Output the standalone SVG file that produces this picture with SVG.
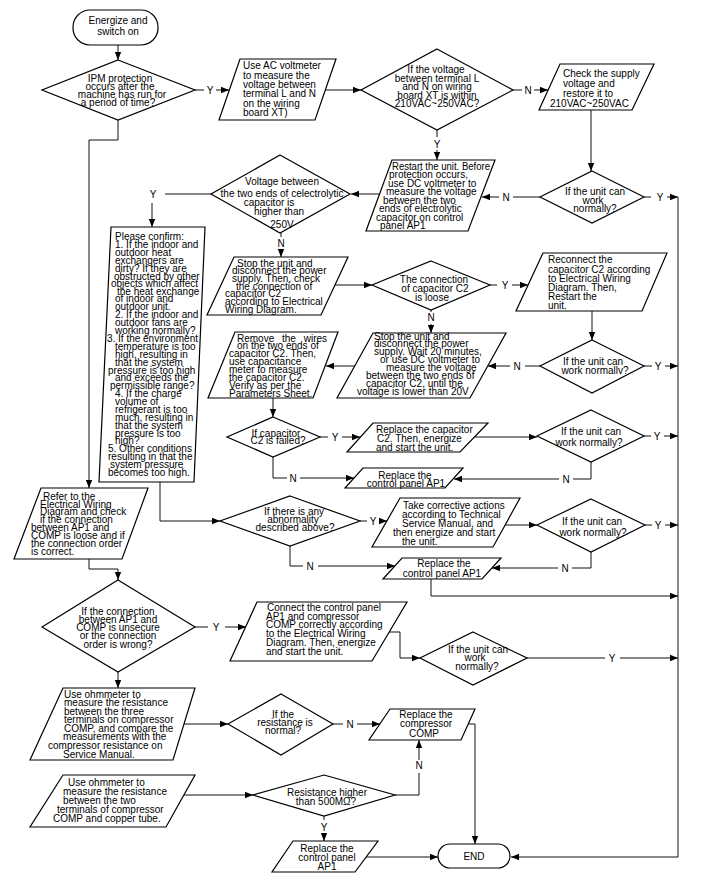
<svg xmlns="http://www.w3.org/2000/svg" width="701" height="880" viewBox="0 0 701 880">
<defs>
<marker id="ah" viewBox="0 0 10 10" refX="10" refY="5" markerWidth="8" markerHeight="8" markerUnits="userSpaceOnUse" orient="auto"><path d="M0,1 L10,5 L0,9 z" fill="#000"/></marker>
<style>
.sh{fill:#fff;stroke:#000;stroke-width:1.2}
.ln{fill:none;stroke:#111;stroke-width:1}
.ar{marker-end:url(#ah)}
text{font-family:"Liberation Sans",Arial,sans-serif;font-size:10px;fill:#000}
.m{text-anchor:middle}
</style>
</defs>
<rect width="701" height="880" fill="#fff"/>

<g id="connectors">
<path class="ln ar" d="M118,45V60"/>
<path class="ln" d="M195,90H204"/><text x="210" y="93.5" class="m">Y</text><path class="ln ar" d="M216,90H229"/>
<path class="ln ar" d="M325,90H361"/>
<path class="ln" d="M513,90H522"/><text x="528" y="93.5" class="m">N</text><path class="ln ar" d="M534,90H548"/>
<path class="ln ar" d="M591,110V171"/>
<path class="ln" d="M644,197H651"/><text x="660" y="200.5" class="m">Y</text><path class="ln ar" d="M667,197H678"/>
<path class="ln ar" d="M678,197V857H511"/>
<path class="ln" d="M540,197H513"/><text x="506" y="200.5" class="m">N</text><path class="ln ar" d="M499,197H482"/>
<path class="ln" d="M437,130V137"/><text x="437" y="148" class="m">Y</text><path class="ln ar" d="M437,150V160"/>
<path class="ln ar" d="M379,194H351"/>
<path class="ln" d="M211,194H165"/><text x="153" y="197.5" class="m">Y</text><path class="ln ar" d="M152,203V227"/>
<path class="ln" d="M281,233V237"/><text x="281" y="246.5" class="m">N</text><path class="ln ar" d="M281,249V257"/>
<path class="ln ar" d="M335,285H372"/>
<path class="ln" d="M490,285H497"/><text x="505" y="288.5" class="m">Y</text><path class="ln ar" d="M512,285H528"/>
<path class="ln" d="M431,310V312"/><text x="431" y="321" class="m">N</text><path class="ln ar" d="M431,324V333"/>
<path class="ln ar" d="M592,311V340"/>
<path class="ln" d="M644,366H652"/><text x="658" y="369.5" class="m">Y</text><path class="ln ar" d="M665,366H678"/>
<path class="ln" d="M540,366H525"/><text x="517" y="369.5" class="m">N</text><path class="ln ar" d="M510,366H488"/>
<path class="ln ar" d="M355,366H326"/>
<path class="ln ar" d="M273,398V417"/>
<path class="ln" d="M320,437H328"/><text x="335" y="440.5" class="m">Y</text><path class="ln ar" d="M342,437H360"/>
<path class="ln ar" d="M475,437H537"/>
<path class="ln" d="M644,436H651"/><text x="657" y="439.5" class="m">Y</text><path class="ln ar" d="M664,436H678"/>
<path class="ln" d="M273,457V478H287"/><text x="293" y="481.5" class="m">N</text><path class="ln ar" d="M300,478H354"/>
<path class="ln" d="M591,462V479H573"/><text x="566" y="482.5" class="m">N</text><path class="ln ar" d="M559,479H454"/>
<path class="ln ar" d="M160,482V521H220"/>
<path class="ln" d="M360,521H367"/><text x="373" y="524.5" class="m">Y</text><path class="ln ar" d="M379,521H387"/>
<path class="ln ar" d="M505,525H537"/>
<path class="ln" d="M645,525H652"/><text x="658" y="528.5" class="m">Y</text><path class="ln ar" d="M665,525H678"/>
<path class="ln" d="M290,546V566H303"/><text x="310" y="569.5" class="m">N</text><path class="ln ar" d="M318,566H395"/>
<path class="ln" d="M591,552V568H572"/><text x="565" y="571.5" class="m">N</text><path class="ln ar" d="M558,568H492"/>
<path class="ln ar" d="M431,579V596H678"/>
<path class="ln ar" d="M118,120V140H89V488"/>
<path class="ln ar" d="M89,559V569H118V580"/>
<path class="ln" d="M195,627H208"/><text x="216" y="630.5" class="m">Y</text><path class="ln ar" d="M225,627H246"/>
<path class="ln ar" d="M389,632H400V658H420"/>
<path class="ln" d="M527,658H605"/><text x="612" y="661.5" class="m">Y</text><path class="ln ar" d="M620,658H678"/>
<path class="ln ar" d="M118,672V688"/>
<path class="ln ar" d="M184,724H228"/>
<path class="ln" d="M333,724H343"/><text x="350" y="727.5" class="m">N</text><path class="ln ar" d="M357,724H380"/>
<path class="ln ar" d="M468,724H475V844"/>
<path class="ln ar" d="M184,795H253"/>
<path class="ln" d="M395,795H419V773"/><text x="419" y="768.5" class="m">N</text><path class="ln ar" d="M419,760V740"/>
<path class="ln" d="M324,816V820"/><text x="324" y="830.5" class="m">Y</text><path class="ln ar" d="M324,833V841"/>
<path class="ln ar" d="M366,857H438"/>
</g>

<g id="start">
<rect class="sh" x="73" y="10" width="85" height="35" rx="17"/>
<text class="m"><tspan x="118" y="24">Energize and</tspan><tspan x="118" y="35">switch on</tspan></text>
</g>

<g id="ipm">
<polygon class="sh" points="118,60 195,90 118,120 42,90"/>
<text class="m"><tspan x="120" y="81.5">IPM protection</tspan><tspan x="120" y="89.5">occurs after the</tspan><tspan x="122" y="97.5">machine has run for</tspan><tspan x="118" y="105.5">a period of time?</tspan></text>
</g>

<g id="ac-voltmeter">
<polygon class="sh" points="240,59 336,59 315,120 219,120"/>
<text><tspan x="243" y="69">Use AC voltmeter</tspan><tspan x="243" y="78.5">to measure the</tspan><tspan x="243" y="87.5">voltage between</tspan><tspan x="243" y="97">terminal L and N</tspan><tspan x="243" y="106.5">on the wiring</tspan><tspan x="243" y="115.5">board XT)</tspan></text>
</g>

<g id="voltage-range">
<polygon class="sh" points="437,49 513,90 437,130 361,90"/>
<text class="m"><tspan x="436" y="73">If the voltage</tspan><tspan x="437" y="81.5">between terminal L</tspan><tspan x="437" y="90">and N on wiring</tspan><tspan x="437" y="98.5">board XT is within</tspan><tspan x="437" y="107">210VAC~250VAC?</tspan></text>
</g>

<g id="check-supply">
<polygon class="sh" points="560,64 654,64 632,110 539,110"/>
<text><tspan x="563" y="76.5">Check the supply</tspan><tspan x="563" y="86.5">voltage and</tspan><tspan x="563" y="96.5">restore it to</tspan><tspan x="550" y="106.5">210VAC~250VAC</tspan></text>
</g>

<g id="work-normally-1">
<polygon class="sh" points="592,171 644,197 592,223 540,197"/>
<text class="m"><tspan x="595" y="194.5">If the unit can</tspan><tspan x="593" y="203.5">work</tspan><tspan x="595" y="211.5">normally?</tspan></text>
</g>

<g id="restart-dc">
<polygon class="sh" points="392,160 495,160 468,231 366,231"/>
<text><tspan x="392" y="169.5" textLength="98" lengthAdjust="spacingAndGlyphs">Restart the unit. Before</tspan><tspan x="389" y="178">protection occurs,</tspan><tspan x="388" y="186.5">use DC voltmeter to</tspan><tspan x="386" y="195">measure the voltage</tspan><tspan x="383" y="203.5">between the two</tspan><tspan x="379" y="212">ends of electrolytic</tspan><tspan x="376" y="220.5">capacitor on control</tspan><tspan x="380" y="229">panel AP1</tspan></text>
</g>

<g id="cap-voltage">
<polygon class="sh" points="280,155 350,194 280,233 211,194"/>
<text class="m"><tspan x="282" y="184.5">Voltage between</tspan><tspan x="282" y="196.5">the two ends of celectrolytic</tspan><tspan x="269" y="205.5">capacitor  is</tspan><tspan x="279" y="214.5">higher than</tspan><tspan x="282" y="227.5">250V</tspan></text>
</g>

<g id="please-confirm">
<polygon class="sh" points="111,227 205,227 194,482 99,482"/>
<text><tspan x="115" y="239.5">Please confirm:</tspan><tspan x="115" y="247.5">1. If the indoor and</tspan><tspan x="115" y="255.5">outdoor heat</tspan><tspan x="115" y="263.5">exchangers are</tspan><tspan x="115" y="271.5">dirty? If they are</tspan><tspan x="114" y="279.5">obstructed by other</tspan><tspan x="111" y="287">objects which affect</tspan><tspan x="117" y="294.5">the heat exchange</tspan><tspan x="115" y="302">of indoor and</tspan><tspan x="115" y="310">outdoor unit.</tspan><tspan x="115" y="318">2. If the indoor and</tspan><tspan x="115" y="326">outdoor fans are</tspan><tspan x="115" y="334">working normally?</tspan><tspan x="107" y="341.5" textLength="91" lengthAdjust="spacingAndGlyphs">3. If the environment</tspan><tspan x="115" y="349.5">temperature is too</tspan><tspan x="115" y="357.5">high, resulting in</tspan><tspan x="115" y="365.5">that the system</tspan><tspan x="108" y="373.5">pressure is too high</tspan><tspan x="115" y="381">and exceeds the</tspan><tspan x="110" y="389">permissible range?</tspan><tspan x="115" y="397">4. If the charge</tspan><tspan x="115" y="405">volume of</tspan><tspan x="115" y="412.5">refrigerant is too</tspan><tspan x="115" y="420.5">much, resulting in</tspan><tspan x="115" y="428.5">that the system</tspan><tspan x="115" y="436.5">pressure is too</tspan><tspan x="115" y="444">high?</tspan><tspan x="108" y="452">5. Other conditions</tspan><tspan x="108" y="460">resulting in that the</tspan><tspan x="110" y="468">system pressure</tspan><tspan x="108" y="475.5">becomes too high.</tspan></text>
</g>

<g id="stop-check-c2">
<polygon class="sh" points="234,257 348,257 321,315 207,315"/>
<text><tspan x="237" y="266.5">Stop the unit and</tspan><tspan x="232" y="274.2">disconnect the power</tspan><tspan x="232" y="281.8">supply. Then, check</tspan><tspan x="236" y="289.5">the connection of</tspan><tspan x="225" y="297.2">capacitor C2</tspan><tspan x="225" y="304.8">according to Electrical</tspan><tspan x="225" y="312.5">Wiring Diagram.</tspan></text>
</g>

<g id="c2-loose">
<polygon class="sh" points="431,261 490,285 431,310 372,285"/>
<text class="m"><tspan x="434" y="282.5">The connection</tspan><tspan x="435" y="291.5">of capacitor C2</tspan><tspan x="432" y="300.5">is loose</tspan></text>
</g>

<g id="reconnect-c2">
<polygon class="sh" points="543,253 667,253 642,311 516,311"/>
<text><tspan x="548" y="262.5">Reconnect the</tspan><tspan x="548" y="272.5">capacitor C2 according</tspan><tspan x="548" y="281.5">to Electrical Wiring</tspan><tspan x="548" y="290.5">Diagram. Then,</tspan><tspan x="548" y="299.5">Restart the</tspan><tspan x="548" y="308.5">unit.</tspan></text>
</g>

<g id="work-normally-2">
<polygon class="sh" points="592,340 644,366 592,393 540,366"/>
<text class="m"><tspan x="593" y="364.5">If the unit can</tspan><tspan x="595" y="373.5">work normallv?</tspan></text>
</g>

<g id="stop-wait">
<polygon class="sh" points="373,333 506,333 470,398 337,398"/>
<text><tspan x="374" y="339.5">Stop the unit and</tspan><tspan x="374" y="347.4">disconnect the power</tspan><tspan x="374" y="355.2">supply. Wait 20 minutes,</tspan><tspan x="380" y="363.1">or use DC voltmeter to</tspan><tspan x="386" y="371">measure the voltage</tspan><tspan x="366" y="378.8">between the two ends of</tspan><tspan x="366" y="386.7">capacitor C2, until the</tspan><tspan x="357" y="394.5">voltage is lower than 20V</tspan></text>
</g>

<g id="remove-wires">
<polygon class="sh" points="235,332 338,332 313,398 208,398"/>
<text><tspan x="237" y="341.5" word-spacing="5">Remove the wires</tspan><tspan x="237" y="349.4">on the two ends of</tspan><tspan x="229" y="357.2">capacitor C2. Then,</tspan><tspan x="229" y="365.1">use capacitance</tspan><tspan x="229" y="373">meter to measure</tspan><tspan x="229" y="380.8">the capacitor C2.</tspan><tspan x="229" y="388.7">Verify as per the</tspan><tspan x="229" y="396.5">Parameters Sheet.</tspan></text>
</g>

<g id="c2-failed">
<polygon class="sh" points="273,417 320,437 273,457 227,437"/>
<text class="m"><tspan x="276" y="436.5">If capacitor</tspan><tspan x="278" y="444">C2 is failed?</tspan></text>
</g>

<g id="replace-c2">
<polygon class="sh" points="373,423 488,423 460,452 347,452"/>
<text><tspan x="376" y="432.5">Replace the capacitor</tspan><tspan x="377" y="441.5">C2. Then, energize</tspan><tspan x="376" y="451">and start the unit.</tspan></text>
</g>

<g id="work-normally-3">
<polygon class="sh" points="591,410 644,436 591,462 537,436"/>
<text class="m"><tspan x="591" y="434.5">If the unit can</tspan><tspan x="589" y="445.5">work normally?</tspan></text>
</g>

<g id="replace-ap1-1">
<polygon class="sh" points="363,468 463,468 445,488 345,488"/>
<text class="m"><tspan x="405" y="478.5">Replace the</tspan><tspan x="406" y="487">control panel AP1</tspan></text>
</g>

<g id="abnormality">
<polygon class="sh" points="290,496 360,521 290,546 220,521"/>
<text class="m"><tspan x="294" y="515">If there is any</tspan><tspan x="293" y="522.5">abnormality</tspan><tspan x="295" y="530.5">described above?</tspan></text>
</g>

<g id="corrective">
<polygon class="sh" points="400,498 520,498 493,547 372,547"/>
<text><tspan x="403" y="508.5">Take corrective actions</tspan><tspan x="402" y="517.5">according to Technical</tspan><tspan x="402" y="526.5">Service Manual, and</tspan><tspan x="393" y="536">then energize and start</tspan><tspan x="402" y="545">the unit.</tspan></text>
</g>

<g id="work-normally-4">
<polygon class="sh" points="591,499 645,525 591,552 537,525"/>
<text class="m"><tspan x="592" y="524.5">If the unit can</tspan><tspan x="593" y="535.5">work normally?</tspan></text>
</g>

<g id="replace-ap1-2">
<polygon class="sh" points="402,558 501,558 482,579 383,579"/>
<text class="m"><tspan x="444" y="566.5">Replace the</tspan><tspan x="442" y="576.5">control panel AP1</tspan></text>
</g>

<g id="refer-wiring">
<polygon class="sh" points="41,488 148,488 122,559 14,559"/>
<text><tspan x="43" y="499.5">Refer to the</tspan><tspan x="40" y="507.5">Electrical Wiring</tspan><tspan x="40" y="515.3">Diagram and check</tspan><tspan x="40" y="523.1">if the connection</tspan><tspan x="31" y="531">between AP1 and</tspan><tspan x="31" y="538.8">COMP is loose and if</tspan><tspan x="31" y="546.6">the connection order</tspan><tspan x="31" y="554.5">is correct.</tspan></text>
</g>

<g id="connection-wrong">
<polygon class="sh" points="118,580 195,627 118,672 42,627"/>
<text class="m"><tspan x="118" y="614.5">If the connection</tspan><tspan x="118" y="622.8">between AP1 and</tspan><tspan x="118" y="631.1">COMP is unsecure</tspan><tspan x="118" y="639.4">or the connection</tspan><tspan x="118" y="647.7">order is wrong?</tspan></text>
</g>

<g id="connect-ap1-comp">
<polygon class="sh" points="257,602 407,602 372,661 230,661"/>
<text><tspan x="267" y="610.5">Connect the control panel</tspan><tspan x="266" y="619.5">AP1 and compressor</tspan><tspan x="266" y="628">COMP correctly according</tspan><tspan x="266" y="636.5">to the Electrical Wiring</tspan><tspan x="266" y="645.5">Diagram. Then, energize</tspan><tspan x="266" y="655">and start the unit.</tspan></text>
</g>

<g id="work-normally-5">
<polygon class="sh" points="473,632 527,658 473,685 420,658"/>
<text class="m"><tspan x="478" y="652.5">If the unit can</tspan><tspan x="475" y="661">work</tspan><tspan x="477" y="669.5">normally?</tspan></text>
</g>

<g id="ohm-three">
<polygon class="sh" points="63,688 195,688 173,760 30,760"/>
<text><tspan x="64" y="697.5">Use ohmmeter to</tspan><tspan x="64" y="706">measure the resistance</tspan><tspan x="64" y="714.6">between the three</tspan><tspan x="64" y="723.2">terminals on compressor</tspan><tspan x="64" y="731.8">COMP, and compare the</tspan><tspan x="63" y="740.3">measurements with the</tspan><tspan x="48" y="748.9">compressor resistance on</tspan><tspan x="63" y="757.5">Service Manual.</tspan></text>
</g>

<g id="resistance-normal">
<polygon class="sh" points="281,694 333,724 281,755 228,724"/>
<text class="m"><tspan x="283" y="717.5">If the</tspan><tspan x="285" y="725.5">resistance is</tspan><tspan x="283" y="733.5">normal?</tspan></text>
</g>

<g id="replace-comp">
<polygon class="sh" points="390,709 475,709 461,740 369,740"/>
<text class="m"><tspan x="426" y="717.5">Replace the</tspan><tspan x="426" y="726.5">compressor</tspan><tspan x="424" y="736.5">COMP</tspan></text>
</g>

<g id="ohm-copper">
<polygon class="sh" points="63,775 195,775 166,827 30,827"/>
<text><tspan x="68" y="785.5">Use ohmmeter to</tspan><tspan x="63" y="794.5">measure the resistance</tspan><tspan x="63" y="803.5">between the two</tspan><tspan x="57" y="812.5">terminals of compressor</tspan><tspan x="53" y="821.5">COMP and copper tube.</tspan></text>
</g>

<g id="resistance-500">
<polygon class="sh" points="324,775 395,795 324,816 253,795"/>
<text class="m"><tspan x="327" y="795.5">Resistance higher</tspan><tspan x="326" y="804.5">than 500MΩ?</tspan></text>
</g>

<g id="replace-ap1-3">
<polygon class="sh" points="293,841 378,841 355,872 272,872"/>
<text class="m"><tspan x="327" y="851.5">Replace the</tspan><tspan x="327" y="860.5">control panel</tspan><tspan x="327" y="869.5">AP1</tspan></text>
</g>

<g id="end">
<rect class="sh" x="438" y="844" width="72" height="24" rx="12"/>
<text class="m" x="474" y="860">END</text>
</g>
</svg>
